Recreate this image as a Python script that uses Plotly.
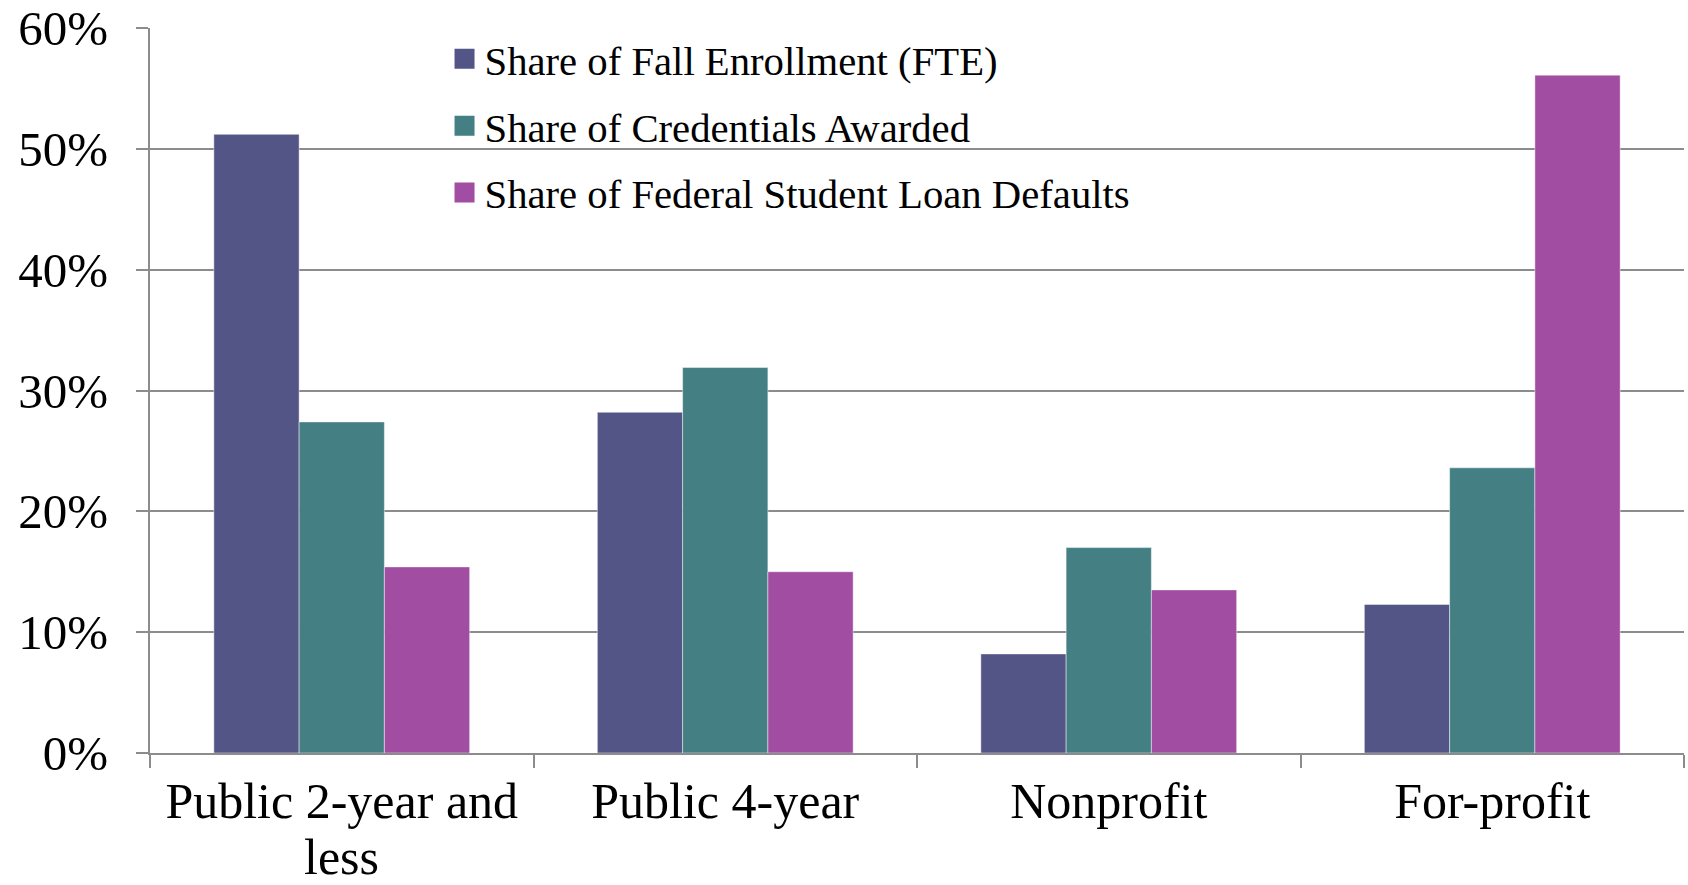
import plotly.graph_objects as go

categories = ["Public 2-year and less", "Public 4-year", "Nonprofit", "For-profit"]
label_line1 = ["Public 2-year and", "Public 4-year", "Nonprofit", "For-profit"]
label_line2 = ["less", "", "", ""]
series_names = [
    "Share of Fall Enrollment (FTE)",
    "Share of Credentials Awarded",
    "Share of Federal Student Loan Defaults",
]
enrollment = [51.2, 28.2, 8.2, 12.3]
credentials = [27.4, 31.9, 17.0, 23.6]
defaults = [15.4, 15.0, 13.5, 56.1]
colors = ["#535587", "#447F84", "#A04DA2"]
y_ticks = [0, 10, 20, 30, 40, 50, 60]
y_tick_labels = ["0%", "10%", "20%", "30%", "40%", "50%", "60%"]

FONT = "Liberation Serif, Times New Roman, serif"
GRID = "#8c8c8c"
CAT_SIZE = 50

fig = go.Figure()
for name, vals, col in zip(series_names, [enrollment, credentials, defaults], colors):
    fig.add_trace(go.Bar(
        x=categories, y=vals, name=name,
        marker=dict(color=col, line=dict(color="rgba(255,255,255,0.45)", width=1)),
        showlegend=False,
    ))
# legend entries with larger square markers
for i, (name, col) in enumerate(zip(series_names, colors)):
    fig.add_trace(go.Scatter(
        x=[None], y=[None], mode="markers", name=name,
        marker=dict(symbol="square", size=16, color=col, line=dict(color=col, width=4)),
        legendgroup=f"g{i}",
    ))

# second lines of category labels
for cat, extra in zip(categories, label_line2):
    if extra:
        fig.add_annotation(
            x=cat, xref="x", y=0, yref="paper", yanchor="middle",
            yshift=-104, text=extra, showarrow=False, borderpad=0,
            font=dict(family=FONT, size=CAT_SIZE, color="black"),
        )

fig.update_layout(
    width=1688, height=885,
    margin=dict(l=150, r=4, t=28, b=132),
    paper_bgcolor="white", plot_bgcolor="white",
    barmode="group", bargap=0.333, bargroupgap=0,
    font=dict(family=FONT, color="black"),
    showlegend=True,
    legend=dict(
        x=0.192, y=1.003, xanchor="left", yanchor="top",
        font=dict(family=FONT, size=40.7, color="black"),
        bgcolor="rgba(0,0,0,0)", borderwidth=0,
        tracegroupgap=11, itemsizing="trace",
    ),
    xaxis=dict(
        type="category", tickson="boundaries",
        tickmode="array", tickvals=categories, ticktext=label_line1,
        ticks="outside", ticklen=13, tickwidth=2, tickcolor=GRID,
        showline=True, linecolor=GRID, linewidth=2,
        showgrid=False, zeroline=False, automargin=False,
        tickfont=dict(family=FONT, size=CAT_SIZE, color="black"),
        ticklabelstandoff=3,
    ),
    yaxis=dict(
        range=[0, 60], tickmode="array", tickvals=y_ticks, ticktext=y_tick_labels,
        ticks="outside", ticklen=12, tickwidth=2, tickcolor=GRID,
        showline=True, linecolor=GRID, linewidth=2,
        showgrid=True, gridcolor=GRID, gridwidth=2,
        zeroline=False, automargin=False,
        tickfont=dict(family=FONT, size=49, color="black"),
        ticklabelstandoff=18,
    ),
)

fig.write_html("out.html")
